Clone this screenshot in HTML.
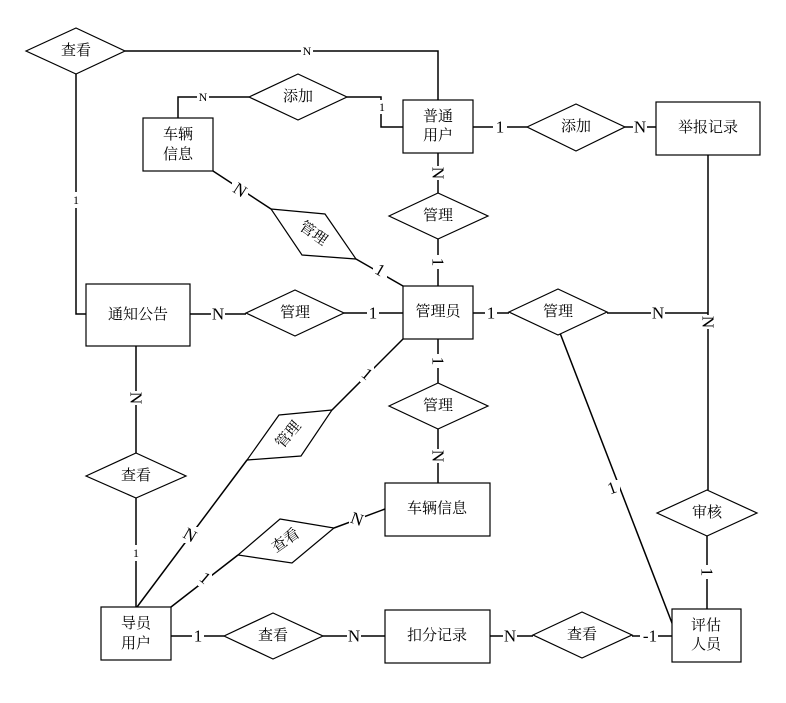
<!DOCTYPE html>
<html><head><meta charset="utf-8"><style>
body{margin:0;background:#fff}
svg text{font-family:"Liberation Serif","Noto Serif CJK SC",serif;fill:#000}
.c{font-size:15px;text-anchor:middle;dominant-baseline:central}
.l{font-size:17px;text-anchor:middle;dominant-baseline:central}
.s{font-size:12px;text-anchor:middle;dominant-baseline:central}
</style></head><body>
<svg width="786" height="698" viewBox="0 0 786 698" xmlns="http://www.w3.org/2000/svg">
<rect width="786" height="698" fill="#fff"/>
<g fill="none" stroke="#000" stroke-width="1.5">
<polyline points="125,51 438,51 438,100"/>
<polyline points="76,74 76,314 86,314"/>
<polyline points="178,118 178,97 249,97"/>
<polyline points="347,97 381,97 381,127 403,127"/>
<line x1="473" y1="127" x2="527" y2="127"/>
<line x1="625" y1="127" x2="656" y2="127"/>
<line x1="438" y1="153" x2="438" y2="193"/>
<line x1="438" y1="239" x2="438" y2="286"/>
<line x1="213" y1="171" x2="271" y2="209"/>
<line x1="356" y1="259" x2="403" y2="286"/>
<line x1="190" y1="314" x2="246" y2="314"/>
<line x1="344" y1="313" x2="403" y2="313"/>
<line x1="473" y1="313" x2="509" y2="313"/>
<line x1="607" y1="313" x2="708" y2="313"/>
<line x1="708" y1="155" x2="708" y2="490"/>
<line x1="707" y1="536" x2="707" y2="609"/>
<line x1="560" y1="333" x2="677" y2="636"/>
<line x1="438" y1="339" x2="438" y2="383"/>
<line x1="438" y1="429" x2="438" y2="483"/>
<line x1="403" y1="339" x2="332" y2="410"/>
<line x1="247" y1="460" x2="137" y2="607"/>
<line x1="136" y1="346" x2="136" y2="453"/>
<line x1="136" y1="498" x2="136" y2="607"/>
<line x1="171" y1="607" x2="238" y2="555"/>
<line x1="334" y1="528" x2="385" y2="509"/>
<line x1="171" y1="636" x2="224" y2="636"/>
<line x1="323" y1="636" x2="385" y2="636"/>
<line x1="490" y1="636" x2="533" y2="636"/>
<line x1="632" y1="636" x2="672" y2="636"/>
</g>
<g fill="#fff" stroke="#000" stroke-width="1.2">
<rect x="403" y="100" width="70" height="53"/>
<rect x="143" y="118" width="70" height="53"/>
<rect x="656" y="102" width="104" height="53"/>
<rect x="86" y="284" width="104" height="62"/>
<rect x="403" y="286" width="70" height="53"/>
<rect x="385" y="483" width="105" height="53"/>
<rect x="101" y="607" width="70" height="53"/>
<rect x="385" y="610" width="105" height="53"/>
<rect x="672" y="609" width="69" height="53"/>
<polygon points="26,51 76,28 125,51 76,74"/>
<polygon points="249,97 298,74 347,97 298,120"/>
<polygon points="527,127 576,104 625,127 576,151"/>
<polygon points="389,216 438,193 488,216 438,239"/>
<polygon points="271,209 325,214 356,259 302,255"/>
<polygon points="246,313 295,290 344,313 295,336"/>
<polygon points="509,312 558,289 607,312 558,335"/>
<polygon points="389,406 438,383 488,406 438,429"/>
<polygon points="86,476 136,453 186,476 136,498"/>
<polygon points="279,415 332,410 301,456 247,460"/>
<polygon points="280,519 334,528 292,563 238,555"/>
<polygon points="657,513 707,490 757,513 707,536"/>
<polygon points="224,636 273,613 323,636 273,659"/>
<polygon points="533,635 582,612 632,635 582,658"/>
</g>
<g class="c">
<text class="c" x="438" y="117">普通</text><text class="c" x="438" y="136">用户</text>
<text class="c" x="178" y="135">车辆</text><text class="c" x="178" y="155">信息</text>
<text class="c" x="708" y="128">举报记录</text>
<text class="c" x="138" y="315">通知公告</text>
<text class="c" x="438" y="312">管理员</text>
<text class="c" x="437" y="509">车辆信息</text>
<text class="c" x="136" y="624">导员</text><text class="c" x="136" y="644">用户</text>
<text class="c" x="437" y="636">扣分记录</text>
<text class="c" x="706" y="626">评估</text><text class="c" x="706" y="645">人员</text>
<text class="c" x="76" y="51">查看</text>
<text class="c" x="298" y="97">添加</text>
<text class="c" x="576" y="127">添加</text>
<text class="c" x="438" y="216">管理</text>
<text class="c" x="313" y="234" transform="rotate(35 313 234)">管理</text>
<text class="c" x="295" y="313">管理</text>
<text class="c" x="558" y="312">管理</text>
<text class="c" x="438" y="406">管理</text>
<text class="c" x="136" y="476">查看</text>
<text class="c" x="289" y="435" transform="rotate(-50 289 435)">管理</text>
<text class="c" x="286" y="541" transform="rotate(-35 286 541)">查看</text>
<text class="c" x="707" y="513">审核</text>
<text class="c" x="273" y="636">查看</text>
<text class="c" x="582" y="635">查看</text>
</g>
<g>
<rect x="301" y="44" width="12" height="14" fill="#fff"/><text class="s" x="307" y="51">N</text>
<rect x="70" y="192" width="12" height="16" fill="#fff"/><text class="s" x="76" y="200">1</text>
<rect x="197" y="90" width="12" height="14" fill="#fff"/><text class="s" x="203" y="97">N</text>
<rect x="377" y="100" width="10" height="14" fill="#fff"/><text class="s" x="382" y="107">1</text>
<rect x="493" y="118" width="14" height="18" fill="#fff"/><text class="l" x="500" y="127">1</text>
<rect x="633" y="118" width="14" height="18" fill="#fff"/><text class="l" x="640" y="127">N</text>
<rect x="429" y="166" width="18" height="14" fill="#fff"/><text class="l" x="438" y="173" transform="rotate(90 438 173)">N</text>
<rect x="429" y="255" width="18" height="14" fill="#fff"/><text class="l" x="438" y="262" transform="rotate(90 438 262)">1</text>
<rect x="232" y="181" width="16" height="18" fill="#fff"/><text class="l" x="240" y="190" transform="rotate(33 240 190)">N</text>
<rect x="373" y="262" width="14" height="16" fill="#fff"/><text class="l" x="380" y="270" transform="rotate(30 380 270)">1</text>
<rect x="211" y="305" width="14" height="18" fill="#fff"/><text class="l" x="218" y="314">N</text>
<rect x="367" y="304" width="12" height="18" fill="#fff"/><text class="l" x="373" y="313">1</text>
<rect x="485" y="304" width="12" height="18" fill="#fff"/><text class="l" x="491" y="313">1</text>
<rect x="651" y="304" width="14" height="18" fill="#fff"/><text class="l" x="658" y="313">N</text>
<rect x="699" y="315" width="18" height="14" fill="#fff"/><text class="l" x="708" y="322" transform="rotate(90 708 322)">N</text>
<rect x="698" y="565" width="18" height="14" fill="#fff"/><text class="l" x="707" y="572" transform="rotate(90 707 572)">1</text>
<rect x="604" y="480" width="16" height="16" fill="#fff"/><text class="l" x="612" y="488" transform="rotate(-20 612 488)">1</text>
<rect x="429" y="354" width="18" height="14" fill="#fff"/><text class="l" x="438" y="361" transform="rotate(90 438 361)">1</text>
<rect x="429" y="449" width="18" height="14" fill="#fff"/><text class="l" x="438" y="456" transform="rotate(90 438 456)">N</text>
<rect x="360" y="366" width="14" height="16" fill="#fff"/><text class="l" x="367" y="374" transform="rotate(40 367 374)">1</text>
<rect x="182" y="527" width="16" height="16" fill="#fff"/><text class="l" x="190" y="535" transform="rotate(30 190 535)">N</text>
<rect x="127" y="391" width="18" height="14" fill="#fff"/><text class="l" x="136" y="398" transform="rotate(90 136 398)">N</text>
<rect x="130" y="545" width="12" height="16" fill="#fff"/><text class="s" x="136" y="553">1</text>
<rect x="198" y="570" width="14" height="16" fill="#fff"/><text class="l" x="205" y="578" transform="rotate(40 205 578)">1</text>
<rect x="349" y="511" width="16" height="16" fill="#fff"/><text class="l" x="357" y="519" transform="rotate(20 357 519)">N</text>
<rect x="192" y="627" width="12" height="18" fill="#fff"/><text class="l" x="198" y="636">1</text>
<rect x="347" y="627" width="14" height="18" fill="#fff"/><text class="l" x="354" y="636">N</text>
<rect x="503" y="627" width="14" height="18" fill="#fff"/><text class="l" x="510" y="636">N</text>
<rect x="640" y="627" width="18" height="18" fill="#fff"/><text class="l" x="650" y="636">-1</text>
</g>
</svg>
</body></html>
